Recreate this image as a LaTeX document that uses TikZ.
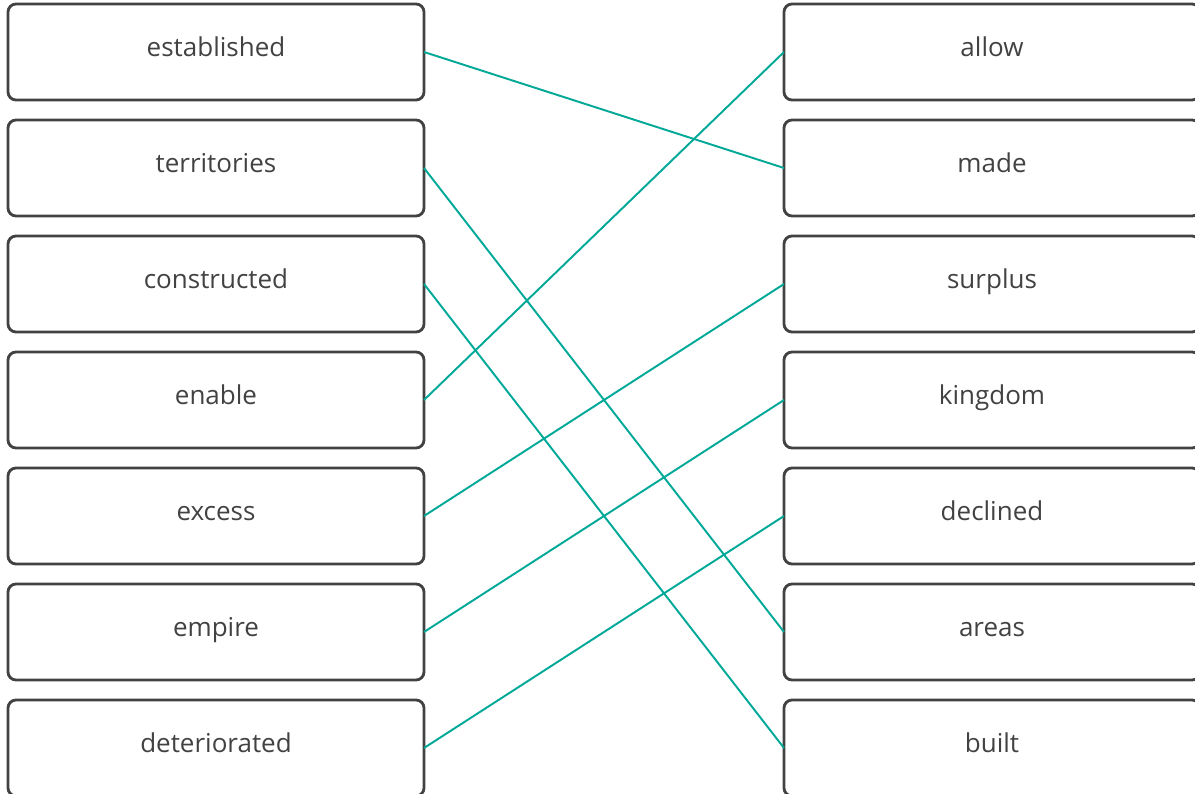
\documentclass[tikz,border=0pt]{standalone}
\usepackage{fontspec}
\setmainfont{Open Sans}
\usetikzlibrary{positioning}
\definecolor{boxgray}{RGB}{66,66,66}
\definecolor{linkteal}{RGB}{0,168,152}
\tikzstyle{word} = [rectangle, rounded corners=0.16cm, minimum width=8.32cm, minimum
height=1.92cm, text centered, text height=0.76em, text depth=0.3em, draw=boxgray,
line width=1.6pt, outer sep=0pt, text=boxgray, font=\fontsize{14.8}{17}\selectfont]
\tikzstyle{link} = [draw=linkteal, line width=1.1pt]

\begin{document}
\begin{tikzpicture} [node distance=0.4cm]
    \useasboundingbox (0,0) rectangle (23.9,-15.88);
    \clip (0,0) rectangle (23.9,-15.88);
    \node (established) [word] at (4.32,-1.04) {established};
    \node (territories) [word, below=of established] {territories};
    \node (constructed) [word, below=of territories] {constructed};
    \node (enable) [word, below=of constructed] {enable};
    \node (excess) [word, below=of enable] {excess};
    \node (empire) [word, below=of excess] {empire};
    \node (deteriorated) [word, below=of empire] {deteriorated};
    \node (allow) [word, right=7.2cm of established] {allow};
    \node (made) [word, below=of allow] {made};
    \node (surplus) [word, below=of made] {surplus};
    \node (kingdom) [word, below=of surplus] {kingdom};
    \node (declined) [word, below=of kingdom] {declined};
    \node (areas) [word, below=of declined] {areas};
    \node (built) [word, below=of areas] {built};

    \draw[link] (established.east) -- (made.west);
    \draw[link] (territories.east) -- (areas.west);
    \draw[link] (constructed.east) -- (built.west);
    \draw[link] (enable.east) -- (allow.west);
    \draw[link] (excess.east) -- (surplus.west);
    \draw[link] (empire.east) -- (kingdom.west);
    \draw[link] (deteriorated.east) -- (declined.west);

\end{tikzpicture}
\end{document}
